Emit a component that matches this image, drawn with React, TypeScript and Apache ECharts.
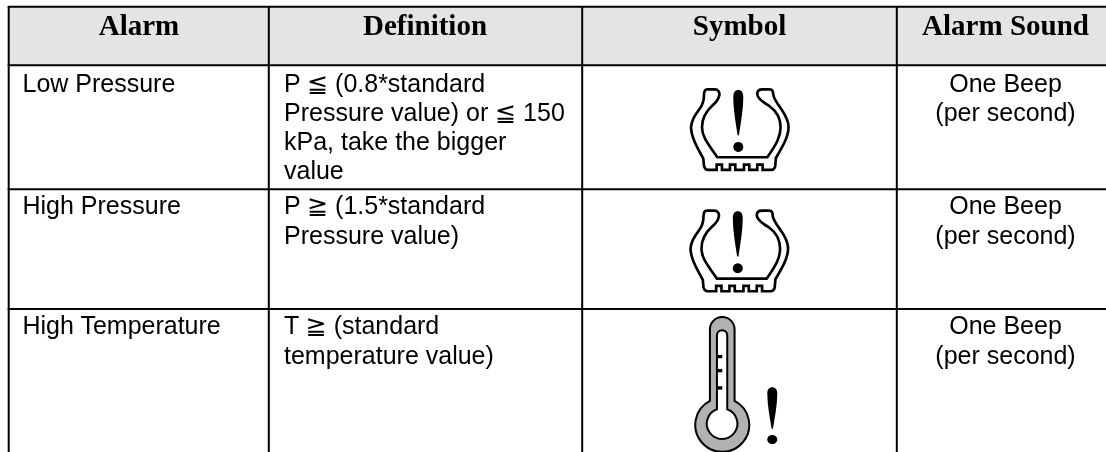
import React, { useEffect, useRef } from "react";
import * as echarts from "echarts";

const headers = ["Alarm", "Definition", "Symbol", "Alarm Sound"];
const alarms = ["Low Pressure", "High Pressure", "High Temperature"];
const definitions = [
  ["P ≦ (0.8*standard", "Pressure value) or ≦ 150", "kPa, take the bigger", "value"],
  ["P ≧ (1.5*standard", "Pressure value)"],
  ["T ≧ (standard", "temperature value)"],
];
const sounds = [
  ["One Beep", "(per second)"],
  ["One Beep", "(per second)"],
  ["One Beep", "(per second)"],
];
const columnLines = [8.7, 268.8, 582.2, 896.8];
const rowLines = [6.7, 65.3, 189.3, 309];
const rowBaselines = [91.5, 214, 334];
const LINE_HEIGHT = 29.2;

const TIRE =
  "M52 28 L74 28 C84 28 90 36 88 46 C86 58 80 66 68 76 C50 92 36 112 36 142 C36 168 50 186 82 232 L232 232 C262 190 272 168 272 142 C272 112 258 92 238 78 C214 64 202 52 202 42 C202 32 208 28 218 28 L240 28 C248 28 250 36 250 44 C252 58 262 70 276 90 C288 108 296 124 296 142 C296 170 278 200 258 234 L256 258 C254 268 250 270 244 270 L218 270 L218 254 L202 254 L202 270 L178 270 L178 254 L162 254 L162 270 L136 270 L136 254 L120 254 L120 270 L96 270 L96 254 L80 254 L80 270 L54 270 C48 270 44 266 42 258 L40 236 C20 200 4 172 3 142 C4 124 14 106 28 88 C36 78 42 62 42 46 C42 34 44 28 52 28 Z";
const BANG =
  "M145 30 C155 30 160 38 160 50 C160 90 152 130 147 166 L143 166 C138 130 130 90 130 50 C130 38 135 30 145 30 Z M145 186 A15 15 0 1 1 144.9 186 Z";
const THERMO_OUTER =
  "M210 88 A37 37 0 0 1 284 88 L284 303 A81 81 0 1 1 210 303 Z";
const THERMO_INNER =
  "M231 106 A15.5 15.5 0 0 1 262 106 L262 328 A46 46 0 1 1 231 328 Z";

echarts.graphic.registerShape("tireOutline", echarts.graphic.extendPath(TIRE, {}));
echarts.graphic.registerShape("bangMark", echarts.graphic.extendPath(BANG, {}));
echarts.graphic.registerShape("thermoOuter", echarts.graphic.extendPath(THERMO_OUTER, {}));
echarts.graphic.registerShape("thermoInner", echarts.graphic.extendPath(THERMO_INNER, {}));

const SANS = '"Liberation Sans", "DejaVu Sans", sans-serif';
const SERIF = '"Liberation Serif", serif';

function label(text: string, x: number, baseline: number, size: number, family: string, weight: string, align: string) {
  return {
    type: "text",
    x,
    y: baseline - size * 0.345,
    silent: true,
    z: 5,
    style: { text, fontSize: size, fontFamily: family, fontWeight: weight, fill: "#000", align, verticalAlign: "middle" },
  };
}

function tire(x: number, y: number) {
  const s = 1 / 3;
  return [
    { type: "tireOutline", x, y, scaleX: s, scaleY: s, z: 3, style: { fill: "none", stroke: "#000", lineWidth: 8 } },
    { type: "bangMark", x, y, scaleX: s, scaleY: s, z: 3, style: { fill: "#000" } },
  ];
}

function thermometer(x: number, y: number) {
  const s = 1 / 3;
  const ticks = [170, 212, 264].map((t) => ({
    type: "rect",
    x,
    y,
    scaleX: s,
    scaleY: s,
    z: 4,
    shape: { x: 231, y: t - 5, width: 16, height: 10 },
    style: { fill: "#000" },
  }));
  return [
    { type: "thermoOuter", x, y, scaleX: s, scaleY: s, z: 3, style: { fill: "#b2b0b0", stroke: "#000", lineWidth: 6 } },
    { type: "thermoInner", x, y, scaleX: s, scaleY: s, z: 3, style: { fill: "#fff", stroke: "#000", lineWidth: 6 } },
    ...ticks,
    { type: "bangMark", x: 724, y: 378.2, scaleX: s, scaleY: s * 0.915, z: 3, style: { fill: "#000" } },
  ];
}

export default function App() {
  const ref = useRef<HTMLDivElement>(null);
  useEffect(() => {
    document.body.style.margin = "0";
    document.body.style.background = "#fff";
    const chart = echarts.init(ref.current!, undefined, { renderer: "svg" });
    const W = 1106;
    const H = 452;
    const graphic: any[] = [];
    graphic.push({ type: "rect", shape: { x: columnLines[0], y: rowLines[0], width: W - columnLines[0], height: rowLines[1] - rowLines[0] }, style: { fill: "#e4e4e4" }, z: 1 });
    rowLines.forEach((y) => {
      graphic.push({ type: "line", shape: { x1: columnLines[0] - 1, y1: y, x2: W, y2: y }, style: { stroke: "#000", lineWidth: 2 }, z: 2 });
    });
    columnLines.forEach((x) => {
      graphic.push({ type: "line", shape: { x1: x, y1: rowLines[0], x2: x, y2: H }, style: { stroke: "#000", lineWidth: 2 }, z: 2 });
    });
    const centers = [139, 425, 739.5, 1005.5];
    headers.forEach((h, i) => graphic.push(label(h, centers[i], 35, 29, SERIF, "bold", "center")));
    alarms.forEach((a, i) => graphic.push(label(a, 22.5, rowBaselines[i], 25, SANS, "normal", "left")));
    definitions.forEach((lines, i) =>
      lines.forEach((l, j) => graphic.push(label(l, 284, rowBaselines[i] + j * LINE_HEIGHT, 25, SANS, "normal", "left")))
    );
    sounds.forEach((lines, i) =>
      lines.forEach((l, j) => graphic.push(label(l, centers[3], rowBaselines[i] + j * LINE_HEIGHT, 25, SANS, "normal", "center")))
    );
    graphic.push(...tire(690, 80));
    graphic.push(...tire(689.5, 201.3));
    graphic.push(...thermometer(640, 300));
    chart.setOption({ animation: false, graphic });
    return () => chart.dispose();
  }, []);
  return <div ref={ref} style={{ position: "fixed", left: 0, top: 0, width: 1106, height: 452 }} />;
}
